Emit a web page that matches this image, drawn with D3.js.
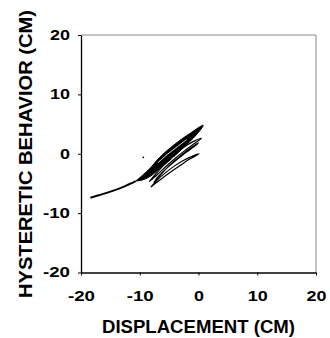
<!DOCTYPE html>
<html><head><meta charset="utf-8">
<script src="https://cdn.jsdelivr.net/npm/d3@7"></script>
<style>body{margin:0;background:#fff}svg{display:block}text{font-family:"Liberation Sans",Arial,sans-serif;font-weight:bold;fill:#000}</style>
</head><body><svg id="c" width="330" height="338"></svg>
<script>
const xTicks=[-20,-10,0,10,20];
const yTicks=[-20,-10,0,10,20];
const xLabel="DISPLACEMENT (CM)";
const yLabel="HYSTERETIC BEHAVIOR (CM)";
// backbone (virgin) branch
const backbone=[[-18.4,-7.4],[-17,-7.0],[-15.5,-6.55],[-14,-6.05],[-12.5,-5.45],[-11.5,-5.0],[-10.7,-4.6]];
// outer envelope of the dense loops (filled)
const lensEnvelope=[[-10.7,-4.6],[-9.5,-3.6],[-8.3,-2.5],[-6.6,-0.6],[-4.3,1.4],[-1.5,3.4],[0.8,4.8],[-0.35,3.2],[-2.6,1.0],[-4.3,-0.6],[-6.6,-2.5],[-8.2,-3.8],[-9.5,-4.4],[-10.7,-4.6]];
// light gaps between the overlapping loops
const gap1=[[-6.9,-1.5],[-5.3,-0.1],[-3.6,1.2],[-2.0,2.4]];
const gap2=[[-4.6,-0.9],[-3.5,-0.1],[-2.3,0.7]];
// thinner lower loops
const loopD=[[-8.4,-4.7],[-7,-3.1],[-5.5,-1.5],[-4,-0.1],[-2.5,1.1],[-1,2.0],[0.5,2.6],[-1,1.5],[-2.5,0.4],[-4,-0.8],[-5.5,-2.1],[-7,-3.5],[-8.4,-4.7]];
const loopE=[[-8.1,-5.6],[-7,-4.4],[-5.5,-3.1],[-4,-2.0],[-2.5,-1.1],[-1,-0.4],[0.1,0.0],[-1.5,-0.9],[-3,-1.9],[-4.5,-2.9],[-6,-4.0],[-7.2,-4.9],[-8.1,-5.6]];
const loopF=[[-7.6,-4.9],[-6.3,-3.4],[-5,-2.0],[-3.5,-0.7],[-2,0.5],[-0.7,1.4],[0,1.8],[-1.3,0.8],[-2.8,-0.3],[-4.3,-1.5],[-5.8,-2.8],[-7,-4.0],[-7.6,-4.9]];
const thinLoops=[loopD,loopE,loopF];
const strayDot=[[-9.4,-0.6]];

const svg=d3.select("#c");
const x=d3.scaleLinear().domain([-20,20]).range([81,316]);
const y=d3.scaleLinear().domain([-20,20]).range([272.5,35]);

// top/right frame (light)
svg.append("path").attr("d",`M${x(-20)},${y(20)}H${x(20)}V${y(-20)}`).attr("fill","none").attr("stroke","#8a8a8a").attr("stroke-width",1);

const fmt=d=>String(d);
const tw=d=>(String(Math.abs(d)).length*10+(d<0?7:0));
const xa=svg.append("g").attr("transform",`translate(0,${y(-20)})`).call(d3.axisBottom(x).tickValues(xTicks).tickFormat(fmt).tickSize(3).tickSizeOuter(0).tickPadding(16));
const ya=svg.append("g").attr("transform",`translate(${x(-20)},0)`).call(d3.axisLeft(y).tickValues(yTicks).tickFormat(fmt).tickSize(3).tickSizeOuter(0).tickPadding(8));
[xa,ya].forEach(g=>{g.select(".domain").attr("stroke","#000").attr("stroke-width",1.3);g.selectAll("line").attr("stroke","#000");
 g.selectAll("text").style("font-size","14px").style("font-family","'Liberation Sans',Arial,sans-serif").style("font-weight","bold").attr("fill","#000")
  .attr("textLength",d=>tw(d)).attr("lengthAdjust","spacingAndGlyphs");});

const line=d3.line().x(d=>x(d[0])).y(d=>y(d[1])).curve(d3.curveCatmullRom.alpha(0.5));
svg.append("path").datum(backbone).attr("d",line).attr("fill","none").attr("stroke","#000").attr("stroke-width",2);
svg.append("path").datum(lensEnvelope).attr("d",line).attr("fill","#000").attr("stroke","#000").attr("stroke-width",1);
svg.selectAll(".gap").data([gap1,gap2]).join("path").attr("class","gap").attr("d",line).attr("fill","none").attr("stroke","#fff").attr("stroke-width",0.9).attr("stroke-dasharray",(d,i)=>i?"3,1.5":null);
svg.selectAll(".lp").data(thinLoops).join("path").attr("class","lp").attr("d",line).attr("fill","none").attr("stroke","#000").attr("stroke-width",1.2);
svg.selectAll(".dot").data(strayDot).join("circle").attr("cx",d=>x(d[0])).attr("cy",d=>y(d[1])).attr("r",0.9).attr("fill","#000");

svg.append("text").attr("x",198.5).attr("y",333).attr("text-anchor","middle").style("font-size","18px").attr("textLength",193).attr("lengthAdjust","spacingAndGlyphs").text(xLabel);
svg.append("text").attr("transform","translate(31.5,154) rotate(-90)").attr("text-anchor","middle").style("font-size","18px").attr("textLength",288).attr("lengthAdjust","spacingAndGlyphs").text(yLabel);
</script></body></html>
